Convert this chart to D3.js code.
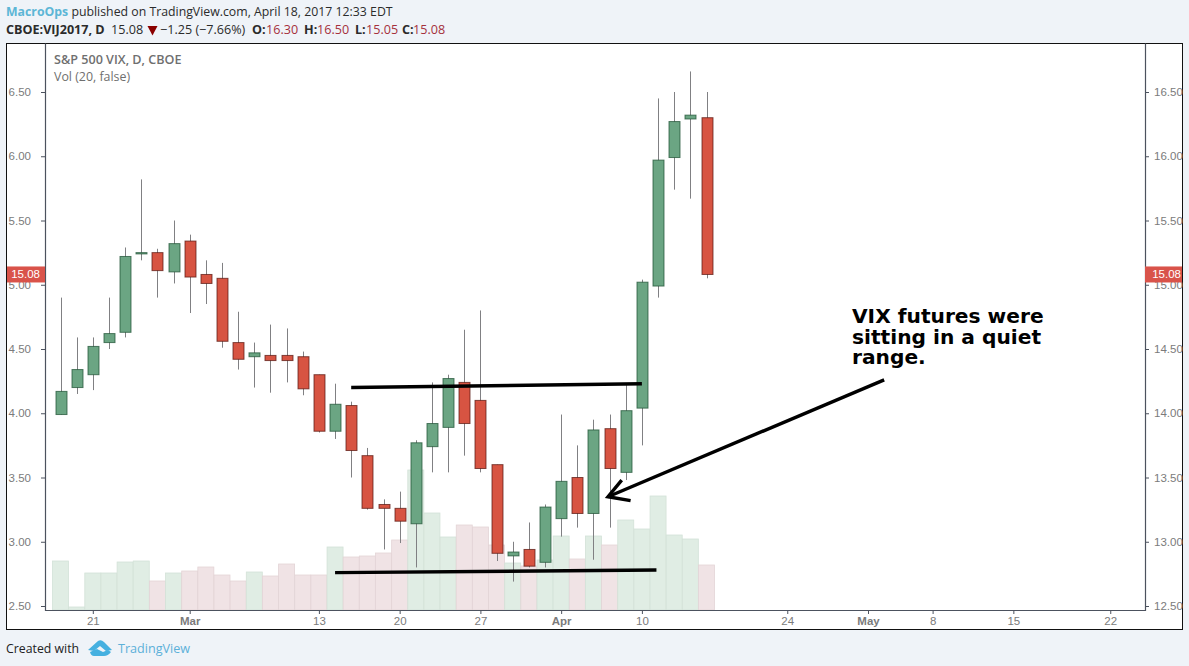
<!DOCTYPE html>
<html>
<head>
<meta charset="utf-8">
<script src="https://d3js.org/d3.v7.min.js"></script>
<style>
html,body{margin:0;padding:0;background:#eff3f8;}
svg{display:block;}
text{font-family:"Liberation Sans",Arial,sans-serif;}
.hdr text,.hdr{font-family:"Open Sans",sans-serif;font-size:12.6px;fill:#2b2b2b;}
.axis text{font-size:11.5px;fill:#7b7b7b;font-family:"Liberation Sans",Arial,sans-serif;}
.axis line,.axis path{stroke:#4c525e;}
</style>
</head>
<body>
<svg id="chart" width="1189" height="666"></svg>
<script>
// daily candles, values
var opens  = [13.99,14.20,14.30,14.55,14.63,15.24,15.25,15.10,15.34,15.08,15.05,14.55,14.44,14.45,14.45,14.44,14.30,13.86,14.06,13.67,13.29,13.26,13.14,13.74,13.89,14.24,14.10,13.60,12.89,12.94,12.84,13.18,13.50,13.22,13.88,13.54,14.04,14.99,15.99,16.29,16.30];
var highs  = [14.90,14.59,14.59,14.90,15.29,15.82,15.28,15.50,15.39,15.19,15.17,14.79,14.55,14.69,14.66,14.48,14.30,14.23,14.09,13.73,13.33,13.39,13.79,14.24,14.30,14.65,14.80,13.60,13.00,13.15,13.29,13.99,13.75,13.95,13.99,14.22,15.04,16.45,16.50,16.66,16.50];
var lows   = [13.99,14.15,14.18,14.50,14.59,15.19,14.90,15.01,14.78,14.85,14.51,14.34,14.20,14.16,14.24,14.14,13.85,13.80,13.50,13.25,12.94,12.99,12.80,13.54,13.54,13.67,13.54,12.85,12.69,12.80,12.80,13.04,13.11,12.86,13.11,13.48,13.75,14.90,15.74,15.67,15.05];
var closes = [14.17,14.34,14.52,14.62,15.22,15.25,15.11,15.32,15.06,15.01,14.56,14.42,14.47,14.41,14.41,14.19,13.86,14.07,13.71,13.26,13.26,13.16,13.77,13.92,14.27,13.92,13.57,12.91,12.92,12.81,13.27,13.47,13.22,13.87,13.57,14.02,15.02,15.97,16.27,16.32,15.08];
var volumes = [49,3,37,37,48,49,29,37,39,43,35,29,38,34,46,35,35,63,53,54,57,70,140,97,73,85,83,65,47,44,50,74,51,74,65,90,81,114,75,71,45];

var priceTicks = [12.5,13,13.5,14,14.5,15,15.5,16,16.5];
var timeTicks  = [2,8,16,21,26,31,36,45,50,54,59,65];
var timeLabels = ["21","Mar","13","20","27","Apr","10","24","May","8","15","22"];
var boldLabels = ["Mar","Apr","May"];

// drawn lines on the chart: [bar index, price]
var rangeTop    = [[18,14.20],[36,14.23]];
var rangeBottom = [[17,12.76],[36.9,12.78]];
var arrowShaft  = [[51,14.26],[33.9,13.35]];
var arrowHead   = [[34.75,13.48],[33.9,13.35],[35.3,13.32]];
var noteLines   = ["VIX futures were","sitting in a quiet","range."];
var lastClose   = 15.08;

var svg = d3.select("#chart");
var x = d3.scaleLinear().domain([0,40]).range([60.5,706.5]);
var y = d3.scaleLinear().domain([12.5,16.5]).range([606,92]);
var v = d3.scaleLinear().domain([0,100]).range([610,510]);
var lineGen = d3.line().x(function(d){return x(d[0]);}).y(function(d){return y(d[1]);});

// page panel
svg.append("rect").attr("x",6.5).attr("y",43.5).attr("width",1176).attr("height",586)
    .attr("fill","#fff").attr("stroke","#111").attr("stroke-width",1);

// volume
var volG = svg.append("g");
volumes.forEach(function(d,i){
    var up = closes[i] >= opens[i];
    volG.append("rect")
        .attr("x",x(i)-8).attr("width",16)
        .attr("y",v(d)).attr("height",v(0)-v(d))
        .attr("fill",up ? "#e0ede4" : "#f0e3e5")
        .attr("stroke",up ? "#d3e2d8" : "#e3d4d6")
        .attr("stroke-width",0.8);
});

// axes
var axL = d3.axisLeft(y).tickValues(priceTicks).tickSize(4).tickPadding(10)
    .tickFormat(function(d){return (d-10).toFixed(2);});
var axR = d3.axisRight(y).tickValues(priceTicks).tickSize(4).tickPadding(5)
    .tickFormat(function(d){return d.toFixed(2);});
var axB = d3.axisBottom(x).tickValues(timeTicks).tickSize(4).tickPadding(3)
    .tickFormat(function(d,i){return timeLabels[i];});
var gL = svg.append("g").attr("class","axis").attr("transform","translate(45,0)").call(axL);
var gR = svg.append("g").attr("class","axis").attr("transform","translate(1145,0)").call(axR);
var gB = svg.append("g").attr("class","axis").attr("transform","translate(0,610)").call(axB);
gL.select(".domain").remove(); gR.select(".domain").remove(); gB.select(".domain").remove();
gB.selectAll("text").style("font-weight",function(d,i){return boldLabels.indexOf(timeLabels[i])>=0 ? "bold" : null;});
svg.append("path").attr("d","M45.5,43.5V610.5H1145.5V43.5").attr("fill","none").attr("stroke","#4c525e").attr("stroke-width",1.2);

// candles
var cG = svg.append("g");
opens.forEach(function(o,i){
    var up = closes[i] >= o;
    var cx = Math.round(x(i))+0.5;
    cG.append("line").attr("x1",cx).attr("x2",cx).attr("y1",y(highs[i])).attr("y2",y(lows[i]))
        .attr("stroke","#808083").attr("stroke-width",1);
    var top = y(Math.max(o,closes[i])), bot = y(Math.min(o,closes[i]));
    cG.append("rect").attr("x",cx-5.5).attr("width",11)
        .attr("y",top).attr("height",Math.max(bot-top,1))
        .attr("fill",up ? "#6ba583" : "#d75442")
        .attr("stroke",up ? "#225437" : "#5b1a13").attr("stroke-width",1).attr("stroke-opacity",0.75);
});

// last price tags
function priceTag(x0,w,anchorX,anchor){
    svg.append("rect").attr("x",x0).attr("y",y(lastClose)-8).attr("width",w).attr("height",16).attr("fill","#d9534a");
    svg.append("text").attr("x",anchorX).attr("y",y(lastClose)+4).attr("text-anchor",anchor)
        .attr("fill","#fff").attr("font-size","11.5px").text(lastClose.toFixed(2));
}
priceTag(7,38,40,"end");
priceTag(1145,37,1181,"end");

// drawn annotation
[rangeTop,rangeBottom,arrowShaft,arrowHead].forEach(function(l){
    svg.append("path").attr("d",lineGen(l)).attr("fill","none").attr("stroke","#000").attr("stroke-width",3.4);
});
noteLines.forEach(function(t,i){
    svg.append("text").attr("x",852).attr("y",323+i*20.5)
        .style("font-family","'DejaVu Sans',sans-serif").style("font-weight","bold").style("font-size","20.2px")
        .attr("fill","#000").text(t);
});

// study titles
svg.append("text").attr("x",54).attr("y",64).attr("fill","#6f6f6f").style("font-family","'Open Sans',sans-serif")
    .style("font-size","12.6px").style("font-weight","600").text("S&P 500 VIX, D, CBOE");
svg.append("text").attr("x",54).attr("y",81).attr("fill","#6f6f6f").style("font-family","'Open Sans',sans-serif")
    .style("font-size","12.4px").text("Vol (20, false)");

// header
var h1 = svg.append("text").attr("class","hdr").attr("x",6).attr("y",16).style("font-size","12.3px");
h1.append("tspan").style("fill","#5cb6d6").style("font-weight","bold").text("MacroOps");
h1.append("tspan").text(" published on TradingView.com, April 18, 2017 12:33 EDT");

var h2 = svg.append("text").attr("class","hdr").attr("y",34);
h2.append("tspan").attr("x",6).style("font-weight","bold").text("CBOE:VIJ2017, D");
h2.append("tspan").attr("x",111).text("15.08");
h2.append("tspan").attr("x",160).text("−1.25 (−7.66%)");
[["O:","16.30",252,266],["H:","16.50",304,317],["L:","15.05",355,366],["C:","15.08",402,413]].forEach(function(p){
    h2.append("tspan").attr("x",p[2]).style("font-weight","bold").text(p[0]);
    h2.append("tspan").attr("x",p[3]).style("fill","#a5303c").text(p[1]);
});
svg.append("path").attr("d","M147.5,26H157.5L152.5,35.5Z").attr("fill","#8b0000");

// footer
svg.append("text").attr("class","hdr").attr("x",6).attr("y",653).style("font-size","12.3px").style("fill","#222").text("Created with");
var logo = svg.append("g").attr("fill","#45b0e0");
logo.append("path").attr("d","M88,650 L98,641 Q101,639 104,642 L112,650 L106,651 L100,646 L94,651 Z");
logo.append("path").attr("d","M90,652 L97,649 L103,652 L108,650 L111,652 Q108,656 104,656 L94,656 Q91,656 90,652 Z");
svg.append("text").attr("x",118).attr("y",653).style("font-family","'Open Sans',sans-serif").style("font-size","12.6px").style("fill","#5cb0d8").text("TradingView");
</script>
</body>
</html>
